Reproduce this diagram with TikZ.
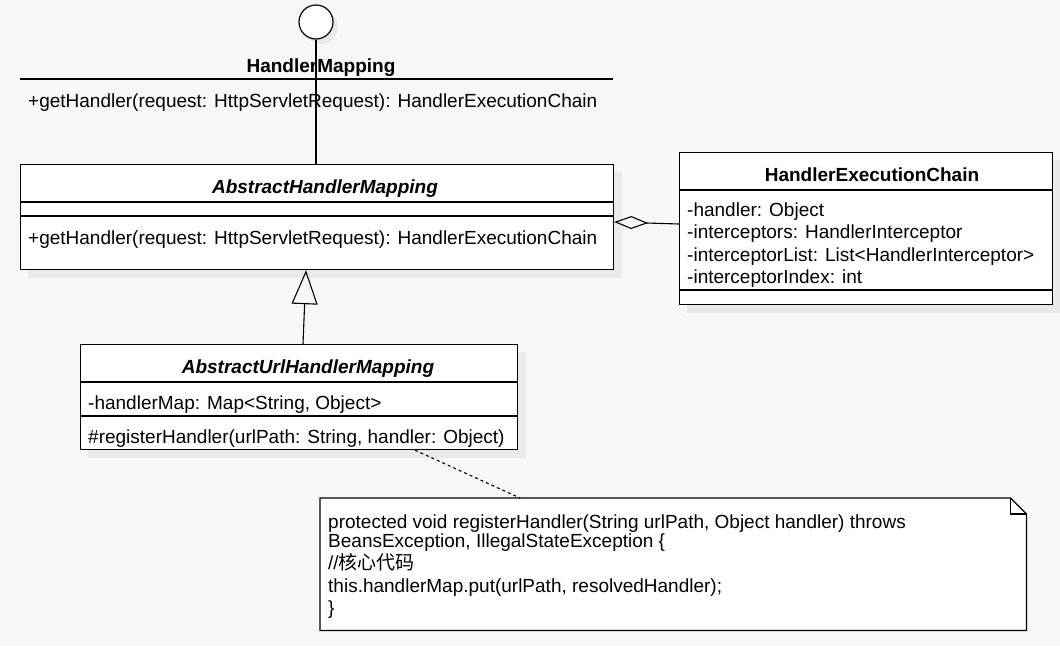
\documentclass[tikz,border=0pt]{standalone}
\usepackage{fontspec}
\setmainfont{Liberation Sans}
\newfontfamily\cjk{Noto Sans CJK SC}
\usepackage{tikz}
\usetikzlibrary{shapes.geometric, arrows.meta, positioning, calc, backgrounds}

\definecolor{canvas}{HTML}{F7F7F7}
\definecolor{shadowgray}{HTML}{E9E9E9}

\begin{document}
\begin{tikzpicture}[x=1pt, y=-1pt,
  every node/.style={font=\fontsize{19}{22}\selectfont, inner sep=0pt, text height=14pt, text depth=4pt},
  classbox/.style={rectangle, draw, line width=1.2pt, fill=white, anchor=north west},
  ctitle/.style={font=\fontsize{19}{22}\selectfont\bfseries},
  atitle/.style={font=\fontsize{19}{22}\selectfont\bfseries\itshape},
  member/.style={anchor=west},
  sep/.style={line width=1.1pt},
  inherit/.style={-{Triangle[open, length=34pt, width=26pt, line width=1.1pt]}, line width=1.1pt},
  aggr/.style={{Diamond[open, length=34pt, width=13pt, line width=1.1pt]}-, line width=1.1pt},
  notelink/.style={dash pattern=on 3pt off 3pt, line width=1.1pt},
]
  \useasboundingbox (0,0) rectangle (1060,646);
  \begin{scope}[on background layer]
    \fill[canvas] (0,0) rectangle (1060,646);
  \end{scope}

  % interface lollipop
  \node[circle, draw, line width=1.2pt, fill=white, minimum size=34pt, text height=, text depth=] (iface) at (316,22) {};
  \node[ctitle] (hmtitle) at (321,67) {HandlerMapping};
  \draw[sep] (20,79) -- (613,79);
  \node[member] (hmop) at (28,102) {+getHandler(request: HttpServletRequest): HandlerExecutionChain};

  % AbstractHandlerMapping
  \node[classbox, minimum width=593pt, minimum height=105pt, text height=, text depth=] (ahm) at (20,164) {};
  \node[atitle] (ahmtitle) at (325,188) {AbstractHandlerMapping};
  \draw[sep] (ahm.west |- 0,202) -- (ahm.east |- 0,202);
  \draw[sep] (ahm.west |- 0,216) -- (ahm.east |- 0,216);
  \node[member] (ahmop) at (28,239) {+getHandler(request: HttpServletRequest): HandlerExecutionChain};

  % HandlerExecutionChain
  \node[classbox, minimum width=373pt, minimum height=152pt, text height=, text depth=] (hec) at (679,152) {};
  \node[ctitle] (hectitle) at (872,176) {HandlerExecutionChain};
  \draw[sep] (hec.west |- 0,190) -- (hec.east |- 0,190);
  \node[member] (hecf1) at (687,211) {-handler: Object};
  \node[member] (hecf2) at (687,233.5) {-interceptors: HandlerInterceptor};
  \node[member] (hecf3) at (687,256) {-interceptorList: List<HandlerInterceptor>};
  \node[member] (hecf4) at (687,278.5) {-interceptorIndex: int};
  \draw[sep] (hec.west |- 0,290) -- (hec.east |- 0,290);

  % AbstractUrlHandlerMapping
  \node[classbox, minimum width=437pt, minimum height=105pt, text height=, text depth=] (auhm) at (80,344) {};
  \node[atitle] (auhmtitle) at (308,368) {AbstractUrlHandlerMapping};
  \draw[sep] (auhm.west |- 0,382) -- (auhm.east |- 0,382);
  \node[member] (auhmf1) at (88,404) {-handlerMap: Map<String, Object>};
  \draw[sep] (auhm.west |- 0,416) -- (auhm.east |- 0,416);
  \node[member] (auhmop) at (88,438) {\#registerHandler(urlPath: String, handler: Object)};

  % note
  \node[rectangle, minimum width=706pt, minimum height=132pt, anchor=north west, text height=, text depth=] (note) at (320,498) {};
  \draw[line width=1.2pt, fill=white] (note.north west) -- ([xshift=-16pt]note.north east) -- ([yshift=-16pt]note.north east) -- (note.south east) -- (note.south west) -- cycle;
  \draw[line width=1.2pt] ([xshift=-16pt]note.north east) -- ([xshift=-16pt,yshift=-16pt]note.north east) -- ([yshift=-16pt]note.north east);
  \node[member] (code1) at (328,523) {protected void registerHandler(String urlPath, Object handler) throws};
  \node[member] (code2) at (328,542) {BeansException, IllegalStateException \{};
  \node[member] (code3) at (328,564) {//{\cjk 核心代码}};
  \node[member] (code4) at (328,587) {this.handlerMap.put(urlPath, resolvedHandler);};
  \node[member] (code5) at (328,609) {\}};

  % connectors
  \draw[line width=1.1pt] (iface.south) -- (iface.south |- ahm.north);
  \draw[aggr] (ahm.east |- 0,222) -- (hec.west |- 0,224);
  \draw[inherit] (auhm.north -| 303,0) -- (ahm.south -| 306,0);
  \draw[notelink] (auhm.south -| 415,0) -- (note.north -| 520,0);

  % shadows
  \begin{scope}[on background layer]
    \fill[shadowgray] ([shift={(8,8)}]ahm.north west) rectangle ([shift={(8,8)}]ahm.south east);
    \fill[shadowgray] ([shift={(8,8)}]hec.north west) rectangle ([shift={(8,8)}]hec.south east);
    \fill[shadowgray] ([shift={(8,8)}]auhm.north west) rectangle ([shift={(8,8)}]auhm.south east);
    \fill[shadowgray] ([shift={(5,5)}]iface.center) circle (17pt);
  \end{scope}
\end{tikzpicture}
\end{document}
